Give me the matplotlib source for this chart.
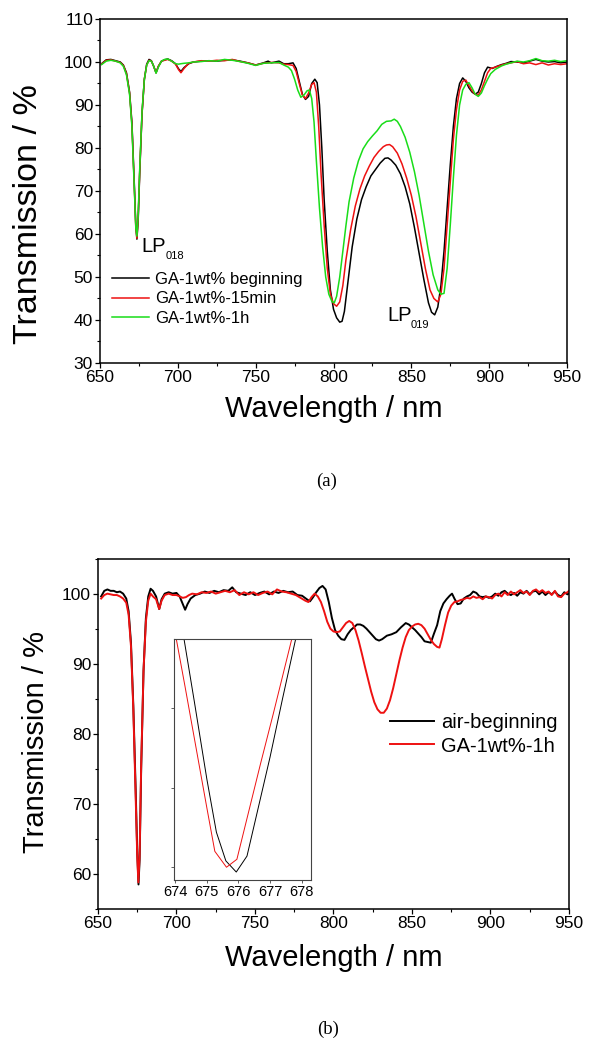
import numpy as np
import matplotlib
matplotlib.use("Agg")
import matplotlib.pyplot as plt
from matplotlib.ticker import MultipleLocator

plt.rcParams['font.family'] = ['Liberation Sans', 'DejaVu Sans']

# ---- panel (a) data ----
wl_a_black = [651, 654, 657, 660, 663, 665, 667, 669, 670.5, 672, 673, 673.7, 674.5, 675.5, 677, 678.5, 680,
              681.5, 683, 684.5, 686, 687.5, 689.5, 691.5, 693.5, 696, 698.5, 700.5, 702, 704, 707, 710, 715,
              720, 725, 730, 735, 740, 745, 750, 755, 758, 760, 765, 768, 771, 774, 776, 778, 780, 782, 784,
              786, 788, 789.5, 791, 792.5, 794, 796, 798, 800, 802, 804, 805.5, 807, 809, 812, 815, 818, 821,
              824, 827, 830, 833, 835, 837, 840, 843, 846, 849, 852, 855, 858, 861, 863, 865, 867, 869, 871,
              873, 875, 877, 879, 881, 883, 885, 887, 889, 891, 893, 895, 897, 899, 902, 905, 908, 911, 914,
              918, 922, 926, 930, 934, 938, 942, 946, 950]
tr_a_black = [99.6, 100.5, 100.6, 100.3, 100.0, 99.3, 97.5, 93, 86, 72, 62, 58.8, 63, 74, 88, 96, 99.5,
              100.6, 100.3, 99, 97.5, 99, 100.2, 100.5, 100.7, 100.3, 99.6, 98.4, 97.8, 98.7, 99.6, 100, 100.2,
              100.3, 100.2, 100.4, 100.5, 100.2, 99.8, 99.3, 99.8, 100.2, 99.8, 100.2, 99.6, 99.6, 99.8, 98.5,
              95.5, 92.5, 91.3, 92, 95, 96, 95.2, 90, 80, 68, 56, 47, 42.5, 40.5, 39.5, 39.7, 42, 48, 57, 63.5,
              68, 71, 73.5, 75, 76.5, 77.6, 77.7, 77.2, 76, 74, 71, 67, 61.5, 55.5, 49.5, 44, 41.8, 41.2, 43,
              48, 56, 66, 76, 85, 91.5, 95, 96.3, 95.5, 94, 93, 92.5, 93, 95, 97.5, 98.8, 98.5, 99, 99.4, 99.7,
              100.1, 100, 99.8, 100.2, 100.6, 100.2, 100, 100.1, 99.8, 100]

wl_a_red = [651, 654, 657, 660, 663, 665, 667, 669, 670.5, 672, 673, 673.7, 674.5, 675.5, 677, 678.5, 680,
            681.5, 683, 684.5, 686, 687.5, 689.5, 691.5, 693.5, 696, 698.5, 700.5, 702, 704, 707, 710, 715,
            720, 725, 730, 735, 740, 745, 750, 755, 760, 765, 768, 771, 774, 776, 778, 780, 782, 784, 786,
            787.5, 789, 790.5, 792, 794, 796, 798, 800, 802, 804, 806, 808, 811, 814, 817, 820, 823, 826, 829,
            832, 834, 836, 838, 841, 844, 847, 850, 853, 856, 859, 862, 864.5, 867, 869, 871, 873, 875, 877,
            879, 881, 883, 885, 887, 889, 891, 893, 895, 897, 899, 901, 904, 908, 911, 914, 918, 922, 926,
            930, 934, 938, 942, 946, 950]
tr_a_red = [99.5, 100.4, 100.5, 100.2, 99.9, 99.2, 97.3, 92.8, 85.5, 71.5, 61.5, 59, 63.5, 74.5, 88, 96, 99.3,
            100.4, 100.2, 99, 97.5, 99, 100.2, 100.4, 100.6, 100.2, 99.5, 98.2, 97.5, 98.5, 99.7, 100, 100.3,
            100.2, 100.4, 100.3, 100.6, 100.1, 99.8, 99.3, 99.7, 99.9, 99.8, 99.5, 99.4, 99.2, 97.8, 95, 92.3,
            91.5, 92.8, 94.8, 95.2, 93, 85, 74, 62, 52, 46, 43.8, 43.2, 44.2, 48, 54, 61, 66.5, 70.5, 73.5,
            75.8, 77.8, 79.2, 80.3, 80.7, 80.8, 80.3, 78.8, 76.3, 73, 69, 64, 58, 52, 47, 45, 44.2, 46, 52, 62,
            72, 82, 89, 93.5, 95.5, 95.8, 94.5, 93.3, 92.5, 92.3, 93.5, 95.5, 97.5, 98.5, 98.8, 99.3, 99.6,
            99.8, 100.1, 99.6, 99.8, 99.4, 99.8, 99.3, 99.6, 99.4, 99.6]

wl_a_green = [651, 654, 657, 660, 663, 665, 667, 669, 670.5, 672, 673, 673.7, 674.5, 675.5, 677, 678.5, 680,
              681.5, 683, 684.5, 686, 687.5, 689.5, 691.5, 693.5, 696, 698.5, 700.5, 702, 704, 707, 710, 715,
              720, 725, 730, 735, 740, 745, 750, 755, 760, 765, 768, 771, 773, 775, 777, 779, 781, 783, 784.5,
              786, 787.5, 789, 791, 793, 795, 797, 799, 800.5, 802, 804, 806, 808, 810, 813, 816, 819, 822, 825,
              828, 831, 834, 837, 839, 841, 843, 846, 849, 852, 855, 858, 861, 864, 867, 869, 871, 873, 875,
              877, 879, 881, 883, 885, 887, 889, 891, 893, 895, 897, 899, 901, 904, 908, 911, 914, 918, 922,
              926, 930, 934, 938, 942, 946, 950]
tr_a_green = [99.4, 100.2, 100.4, 100.2, 99.8, 99.0, 97, 92.5, 85, 71, 61.5, 59.5, 64, 75, 88.5, 96, 99.3,
              100.3, 100.2, 99, 97.4, 98.8, 100.2, 100.6, 100.7, 100.2, 99.6, 99.5, 99.6, 99.7, 99.8, 100,
              100.1, 100.3, 100.2, 100.6, 100.4, 100.1, 99.7, 99.2, 99.7, 99.8, 99.9, 99.3, 98.8, 98, 96, 93.5,
              91.8, 92.3, 93.3, 93.5, 91.5, 86, 77, 66, 57, 50, 46, 44.3, 44, 45.5, 50, 56, 62, 67.5, 73, 77,
              79.8, 81.5, 82.8, 84, 85.5, 86.2, 86.3, 86.7, 86.2, 85, 82.5, 79, 74.5, 69, 62.5, 56, 50.5, 47,
              46, 46.2, 52, 62, 73, 83, 90, 93.5, 94.8, 95.2, 94, 92.5, 92, 92.8, 94.5, 96, 97.3, 98.3, 99.1,
              99.5, 99.8, 100.2, 100, 100.3, 100.8, 100.3, 100.2, 100.4, 100.1, 100.3]

labels_a = ["GA-1wt% beginning", "GA-1wt%-15min", "GA-1wt%-1h"]

# ---- panel (b) data ----
wl_b_air = [652, 654, 656, 658, 660, 662, 664, 666, 668, 669.5, 671, 672.5, 674, 675, 675.8, 676.5, 677.5, 679,
            680.5, 682, 683.5, 685, 687, 689, 690.5, 692.5, 695, 697.5, 700, 702, 704, 705.5, 707, 709, 712,
            715, 718, 721, 724, 727, 730, 733, 735.5, 738, 741, 744, 747, 750, 753, 756, 759, 762, 765, 768,
            771, 774, 777, 780, 783, 785, 787, 789, 791, 793, 795, 797, 799, 801, 803, 805, 807, 809, 811,
            813, 815, 817, 819, 821, 823, 825, 827, 829, 831, 834, 837, 840, 843, 846, 848, 850, 852, 854,
            856, 858, 860, 862, 864, 866, 868, 870, 872, 874, 875.5, 877, 879, 881, 883, 885, 887, 889, 891,
            893, 895, 897, 899, 901, 903, 905, 907, 909, 911, 913, 915, 917, 919, 921, 923, 925, 927, 929,
            931, 933, 935, 937, 939, 941, 943, 945, 947, 949, 950]
tr_b_air = [99.6, 100.4, 100.6, 100.4, 100.4, 100.2, 100.3, 100, 99.3, 97.5, 93, 84, 72, 63, 58.5, 62, 75, 89,
            96.5, 99.6, 100.7, 100.4, 99.6, 97.8, 99.2, 100, 100.2, 100, 100.1, 99.6, 98.5, 97.7, 98.5, 99.3,
            99.8, 100, 100.3, 100.1, 100.4, 100.2, 100.5, 100.4, 100.9, 100.2, 100, 99.8, 100.2, 99.8, 100.1,
            100.3, 99.9, 100.3, 100.1, 100.4, 100.2, 100.3, 99.8, 99.7, 99.2, 98.9, 99.5, 100.2, 100.8, 101.1,
            100.6, 98.8, 96.5, 94.8, 94, 93.5, 93.4, 94.2, 94.8, 95.2, 95.6, 95.6, 95.4, 95, 94.5, 94, 93.5,
            93.3, 93.5, 94, 94.2, 94.5, 95.2, 95.8, 95.6, 95.2, 94.8, 94.3, 93.8, 93.2, 93.1, 93.0, 94.3,
            95.5, 97.5, 98.6, 99.2, 99.7, 100, 99.3, 98.5, 98.6, 99.3, 99.6, 99.8, 100.3, 100.1, 99.6, 99.5,
            99.6, 99.4, 99.6, 100, 99.7, 100.2, 100.4, 100, 99.8, 100.1, 99.7, 100.2, 100, 100.4, 99.9, 100.3,
            100.4, 99.9, 100.3, 99.8, 100.2, 99.9, 100.3, 99.8, 99.6, 100.2, 99.9, 100]

wl_b_ga = [652, 654, 656, 658, 660, 662, 664, 666, 668, 669.5, 671, 672.5, 674, 675, 675.7, 676.5, 677.5, 679,
           680.5, 682, 683.5, 685, 687, 689, 690.5, 692.5, 695, 697.5, 700, 702, 704, 706, 708, 710, 713, 716,
           719, 722, 725, 728, 731, 734, 737, 740, 743, 746, 749, 752, 755, 758, 761, 764, 767, 770, 773, 776,
           779, 782, 784, 786, 788, 790, 792, 794, 796, 798, 800, 802, 804, 806, 808, 810, 812, 814, 816, 818,
           820, 822, 824, 826, 828, 830, 832, 834, 836, 838, 840, 842, 844, 846, 848, 850, 852, 854, 856, 858,
           860, 862, 864, 866, 867.5, 869, 871, 873, 875, 877, 879, 881, 883, 885, 887, 889, 891, 893, 895,
           897, 899, 901, 903, 905, 907, 909, 911, 913, 915, 917, 919, 921, 923, 925, 927, 929, 931, 933, 935,
           937, 939, 941, 943, 945, 947, 949, 950]
tr_b_ga = [99.3, 99.8, 100, 99.9, 99.8, 99.8, 99.6, 99.3, 98.7, 97, 92.5, 83.5, 71, 62.5, 58.8, 62.5, 75.5, 89,
           96, 99, 100, 99.6, 99.2, 97.8, 99, 99.8, 100, 99.8, 99.8, 99.6, 99.4, 99.5, 99.8, 100, 99.9, 100.2,
           100.1, 100.3, 100, 100.2, 100.4, 100.2, 100.5, 99.8, 100.2, 99.9, 100.2, 99.8, 100.1, 100.3, 99.9,
           100.6, 100.3, 100.2, 100, 99.8, 99.4, 99, 98.8, 99.5, 100, 99.6, 98.8, 97.5, 96, 95, 94.6, 94.5,
           94.6, 95.2, 95.8, 96.1, 95.8, 94.8, 93.3, 91.5, 89.6, 87.8, 86, 84.5, 83.5, 83, 83, 83.6, 84.8, 86.5,
           88.5, 90.5, 92.3, 93.8, 94.8, 95.3, 95.6, 95.7, 95.5, 95, 94.2, 93.4, 92.8, 92.4, 92.3, 93.5, 95.5,
           97.3, 98.3, 98.8, 98.9, 99.1, 99.2, 99.4, 99.3, 99.6, 99.4, 99.5, 99.2, 99.6, 99.5, 99.3, 99.8, 100,
           99.6, 100.2, 99.8, 100.3, 99.9, 100.2, 100.5, 100.1, 100.3, 99.8, 100.4, 100.6, 100.2, 100.5, 100.1,
           100.3, 99.8, 100.4, 99.6, 99.5, 100, 100.2, 100.4]

labels_b = ["air-beginning", "GA-1wt%-1h"]

# inset: zoom on the LP018 dip
wl_in_air = [674.2, 674.6, 675.0, 675.3, 675.6, 675.93, 676.27, 676.6, 677.0, 677.4, 677.9]
tr_in_air = [75.2, 70.4, 65.5, 62.2, 60.4, 59.7, 60.7, 63.5, 66.9, 70.6, 75.1]
wl_in_ga = [673.9, 674.3, 674.7, 675.0, 675.25, 675.62, 675.95, 676.3, 676.7, 677.1, 677.5, 677.8]
tr_in_ga = [75.7, 71.4, 67.0, 63.7, 61.0, 60.0, 60.5, 63.3, 66.5, 69.6, 72.8, 75.2]

GREEN = '#19dd19'
RED = '#ee1111'
W, H = 596, 1050
fig = plt.figure(figsize=(W / 100, H / 100), dpi=100)


def px(x0, y0, x1, y1):
    # pixel box -> figure fraction rect
    return [x0 / W, 1 - y1 / H, (x1 - x0) / W, (y1 - y0) / H]


def style(ax, fs):
    for s in ax.spines.values():
        s.set_linewidth(1.1)
    ax.tick_params(which='major', direction='out', length=3.5, width=0.9, pad=1.5, labelsize=fs)
    ax.tick_params(which='minor', direction='out', length=2, width=0.8)


# ---- (a) ----
ax1 = fig.add_axes(px(100, 19, 567, 363))
ax1.plot(wl_a_black, tr_a_black, color='black', lw=1.1, label=labels_a[0])
ax1.plot(wl_a_red, tr_a_red, color=RED, lw=1.1, label=labels_a[1])
ax1.plot(wl_a_green, tr_a_green, color=GREEN, lw=1.1, label=labels_a[2])
ax1.set_xlim(650, 950)
ax1.set_ylim(30, 110)
ax1.xaxis.set_major_locator(MultipleLocator(50))
ax1.xaxis.set_minor_locator(MultipleLocator(25))
ax1.yaxis.set_major_locator(MultipleLocator(10))
ax1.yaxis.set_minor_locator(MultipleLocator(5))
style(ax1, 12.5)
ax1.text(676.8, 55.8, "LP", fontsize=14.5)
ax1.text(692.0, 54.2, "018", fontsize=8)
ax1.text(834.3, 39.8, "LP", fontsize=14.5)
ax1.text(849.8, 38.1, "019", fontsize=8)
ax1.legend(loc='center left', bbox_to_anchor=(112 / W, 1 - 299 / H), bbox_transform=fig.transFigure,
           frameon=False, fontsize=12, handlelength=2.2, handletextpad=0.4, labelspacing=0.28,
           borderpad=0, borderaxespad=0)
fig.text(28.5 / W, 1 - 214 / H, "Transmission / %", rotation=90, ha='center', va='center', fontsize=24.5)
fig.text(334 / W, 1 - 417 / H, "Wavelength / nm", ha='center', va='baseline', fontsize=21)
fig.text(327 / W, 1 - 481 / H, "(a)", ha='center', va='center', fontsize=13.5, family='Liberation Serif')

# ---- (b) ----
ax2 = fig.add_axes(px(98, 558.6, 569, 909))
ax2.plot(wl_b_air, tr_b_air, color='black', lw=1.4, label=labels_b[0])
ax2.plot(wl_b_ga, tr_b_ga, color=RED, lw=1.4, label=labels_b[1])
ax2.set_xlim(650, 950)
ax2.set_ylim(55, 105)
ax2.xaxis.set_major_locator(MultipleLocator(50))
ax2.xaxis.set_minor_locator(MultipleLocator(25))
ax2.yaxis.set_minor_locator(MultipleLocator(5))
ax2.set_yticks([60, 70, 80, 90, 100])
style(ax2, 12.5)
ax2.legend(loc='center left', bbox_to_anchor=(390 / W, 1 - 734.5 / H), bbox_transform=fig.transFigure,
           frameon=False, fontsize=14.5, handlelength=2.2, handletextpad=0.35, labelspacing=0.2,
           borderpad=0, borderaxespad=0)
fig.text(36 / W, 1 - 742 / H, "Transmission / %", rotation=90, ha='center', va='center', fontsize=21)
fig.text(334 / W, 1 - 966 / H, "Wavelength / nm", ha='center', va='baseline', fontsize=21)
fig.text(328 / W, 1 - 1029 / H, "(b)", ha='center', va='center', fontsize=13.5, family='Liberation Serif')

axi = fig.add_axes(px(173.5, 639.3, 310.7, 880))
axi.plot(wl_in_air, tr_in_air, color='black', lw=0.7)
axi.plot(wl_in_ga, tr_in_ga, color=RED, lw=0.7)
axi.set_xlim(673.94, 678.29)
axi.set_ylim(59.2, 74.3)
axi.set_xticks([674, 675, 676, 677, 678])
axi.set_yticks([60, 65, 70])
axi.set_yticklabels([])
for s in axi.spines.values():
    s.set_linewidth(0.8)
    s.set_color('#444444')
axi.tick_params(direction='out', length=2, width=0.6, pad=1.5, labelsize=10.5, color='#444444')

fig.savefig("out.png", dpi=100)
